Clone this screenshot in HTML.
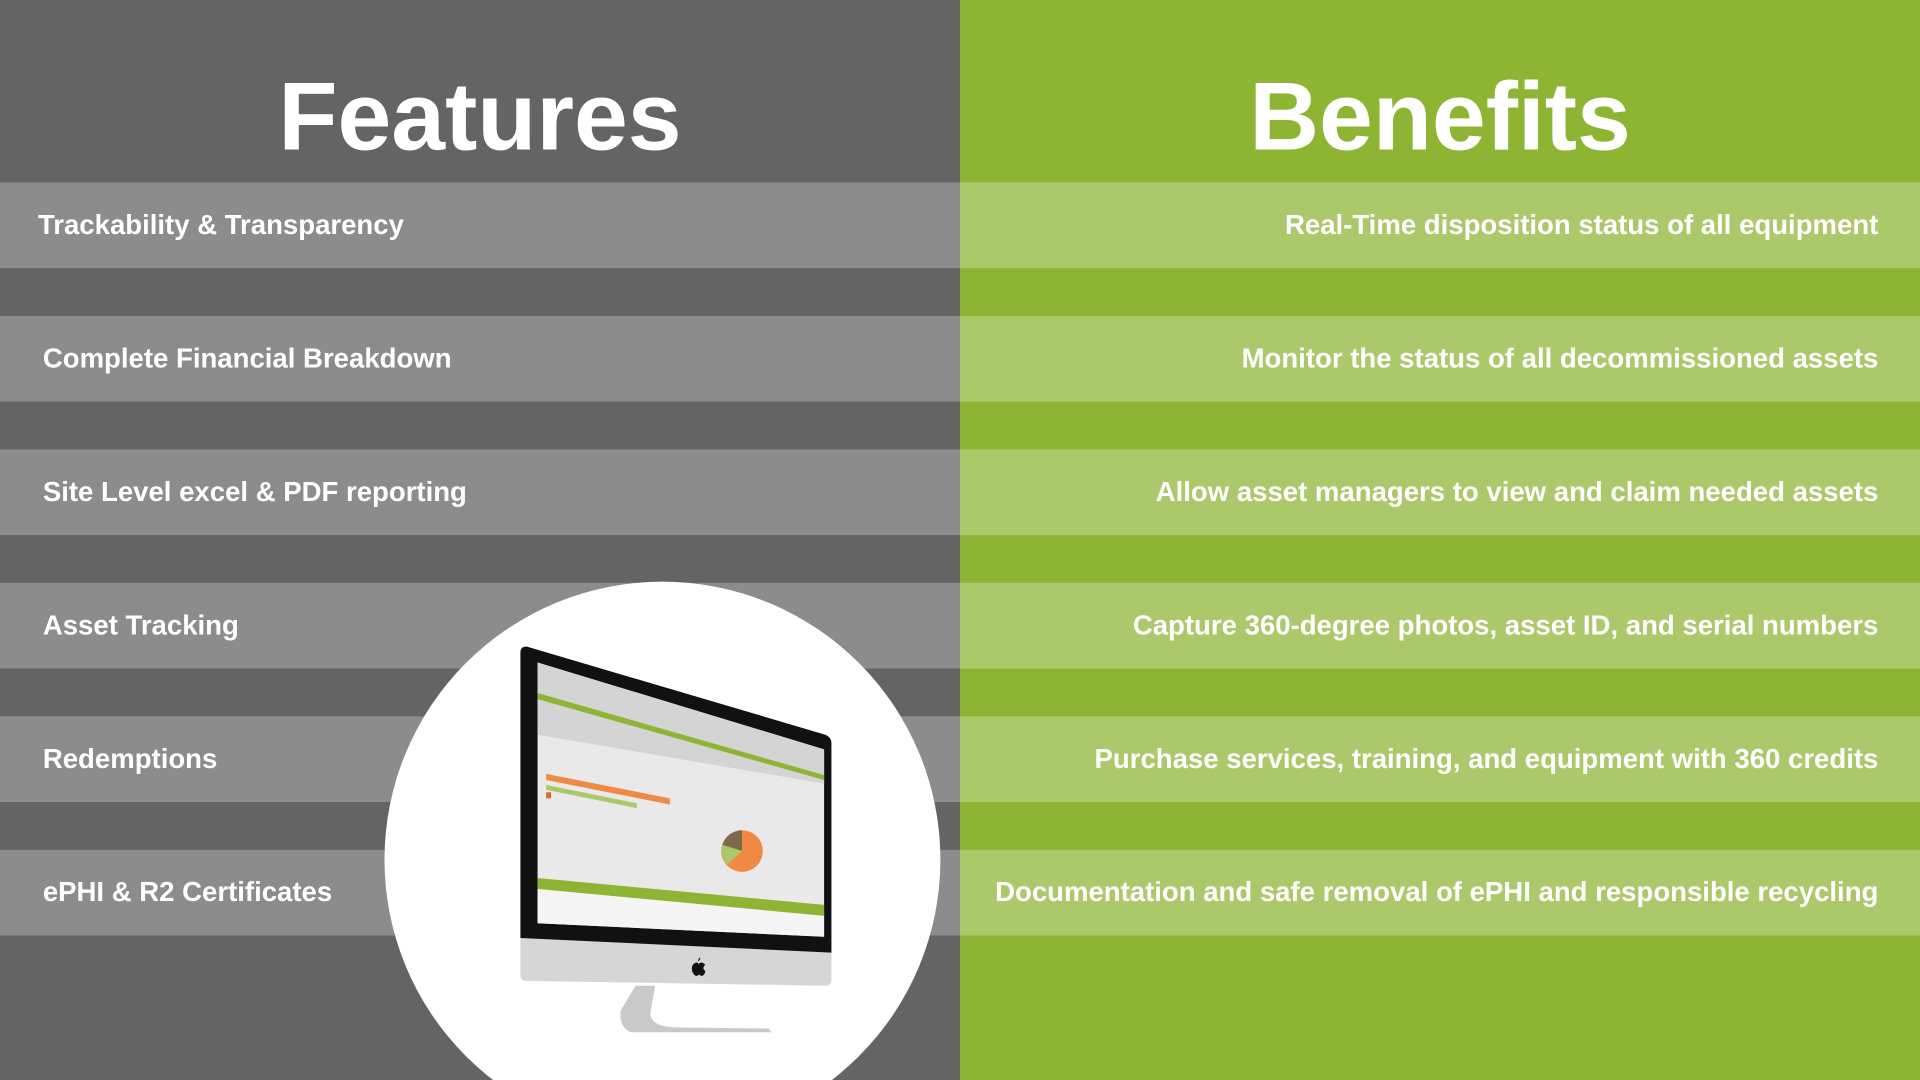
<!DOCTYPE html>
<html><head><meta charset="utf-8"><style>html,body{margin:0;padding:0;width:1920px;height:1080px;overflow:hidden;background:#646464}svg{display:block;overflow:hidden}</style></head>
<body>
<svg width="1920" height="1080" viewBox="0 0 1568 882" xmlns="http://www.w3.org/2000/svg" font-family="'Liberation Sans', sans-serif" font-weight="bold">
<rect x="0" y="0" width="784" height="882" fill="#646464"/>
<rect x="784" y="0" width="784" height="882" fill="#8db533"/>
<text x="392" y="122" text-anchor="middle" font-size="79" fill="#fff">Features</text>
<text x="1176" y="122" text-anchor="middle" font-size="79" fill="#fff">Benefits</text>
<g>
<rect x="0" y="149" width="784" height="70" fill="#8c8c8c"/><rect x="784" y="149" width="784" height="70" fill="#abc96a"/>
<rect x="0" y="258" width="784" height="70" fill="#8c8c8c"/><rect x="784" y="258" width="784" height="70" fill="#abc96a"/>
<rect x="0" y="367" width="784" height="70" fill="#8c8c8c"/><rect x="784" y="367" width="784" height="70" fill="#abc96a"/>
<rect x="0" y="476" width="784" height="70" fill="#8c8c8c"/><rect x="784" y="476" width="784" height="70" fill="#abc96a"/>
<rect x="0" y="585" width="784" height="70" fill="#8c8c8c"/><rect x="784" y="585" width="784" height="70" fill="#abc96a"/>
<rect x="0" y="694" width="784" height="70" fill="#8c8c8c"/><rect x="784" y="694" width="784" height="70" fill="#abc96a"/>
</g>
<g font-size="22.5" fill="#fff">
<text x="31" y="191">Trackability &amp; Transparency</text>
<text x="35" y="300">Complete Financial Breakdown</text>
<text x="35" y="409">Site Level excel &amp; PDF reporting</text>
<text x="35" y="518">Asset Tracking</text>
<text x="35" y="627">Redemptions</text>
<text x="35" y="736">ePHI &amp; R2 Certificates</text>
<g text-anchor="end">
<text x="1534" y="191">Real-Time disposition status of all equipment</text>
<text x="1534" y="300">Monitor the status of all decommissioned assets</text>
<text x="1534" y="409">Allow asset managers to view and claim needed assets</text>
<text x="1534" y="518">Capture 360-degree photos, asset ID, and serial numbers</text>
<text x="1534" y="627">Purchase services, training, and equipment with 360 credits</text>
<text x="1534" y="736">Documentation and safe removal of ePHI and responsible recycling</text>
</g>
</g>
<circle cx="541" cy="702" r="227" fill="#fff"/>
<path d="M519,805 L535,805 L531,828 Q532,838 550,839 L628,840 L630,843 L515,843 Q505,838 507,825 Z" fill="#c9c9c9"/>
<path d="M425,765 L679,775 L679,800 Q679,805 674,805 L430,801 Q425,801 425,796 Z" fill="#d6d6d6"/>
<path d="M430,528 Q425,528 425,533 L425,766 L679,778 L679,607 Q679,602 674,600 Z" fill="#111"/>
<path d="M439,541 L673,612 L673,765 L439,754 Z" fill="#e9e9e9"/>
<path d="M439,541 L673,612 L673,640 L439,600 Z" fill="#d4d4d4"/>
<path d="M439,566 L673,633 L673,637 L439,571 Z" fill="#8db533"/>
<path d="M446,632 L547,652 L547,657 L446,637 Z" fill="#ef8a45"/>
<path d="M446,641 L520,656 L520,660 L446,645 Z" fill="#abc96a"/>
<rect x="446" y="647" width="4" height="5" fill="#e06a2a"/>
<path d="M439,717 L673,739 L673,748 L439,726 Z" fill="#8db533"/>
<path d="M439,726 L673,748 L673,765 L439,754 Z" fill="#f5f5f5"/>
<circle cx="606" cy="695" r="17" fill="#ef8a45"/>
<path d="M606,695 L606,678 A17,17 0 0 0 590,690 Z" fill="#7a6a4a"/>
<path d="M606,695 L590,690 A17,17 0 0 0 594,706 Z" fill="#abc96a"/>
<path d="M569,786 c-2,0 -4,2 -4,5 c0,3 2,6 4,6 c1,0 1,-1 2,-1 c1,0 1,1 2,1 c2,0 3,-3 3,-4 c-2,-1 -2,-4 0,-5 c-1,-1 -2,-2 -3,-2 c-1,0 -2,1 -2,1 c-1,0 -1,-1 -2,-1 z M572,782 c0,1 -1,3 -2,3 c0,-1 1,-3 2,-3z" fill="#111"/>
</svg>
</body></html>
